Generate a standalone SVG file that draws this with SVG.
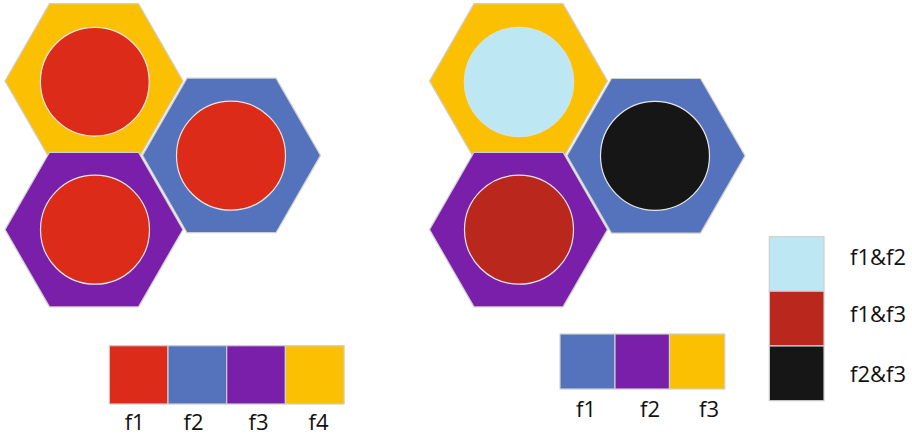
<svg xmlns="http://www.w3.org/2000/svg" width="912" height="436" viewBox="0 0 912 436">
<style>
.hex{stroke:#cfcfcf;stroke-width:1.2}
.cir{stroke:#e6e6e6;stroke-width:1.2}
.sw{stroke:#cfcfcf;stroke-width:1.2}
.yel{fill:#FBC002}.blu{fill:#5473BC}.pur{fill:#7A1FA9}.red{fill:#DC2C19}
.lbl{fill:#bde8f3}.dred{fill:#BA271C}.blk{fill:#161616}
text{font-family:"Open Sans","Liberation Sans",sans-serif;font-size:22px;fill:#111}
</style>
<defs>
<polygon id="hexshape" points="-89,0 -44.5,-77.3 44.5,-77.3 89,0 44.5,77.3 -44.5,77.3"/>
</defs>
<g id="left-group">
<g id="hex-f4-left"><use href="#hexshape" x="94" y="81" class="hex yel"/><circle cx="94.8" cy="81.7" r="54.4" class="cir red"/></g>
<g id="hex-f2-left"><use href="#hexshape" x="231.5" y="155.4" class="hex blu"/><circle cx="231" cy="155.7" r="54.5" class="cir red"/></g>
<g id="hex-f3-left"><use href="#hexshape" x="94" y="229.6" class="hex pur"/><circle cx="95" cy="229.7" r="54.5" class="cir red"/></g>
</g>
<g id="right-group">
<g id="hex-f3-right"><use href="#hexshape" x="518.5" y="81" class="hex yel"/><circle cx="519" cy="82" r="54.8" class="lbl" stroke="#d6e3e8" stroke-width="1"/></g>
<g id="hex-f1-right"><use href="#hexshape" x="656" y="155.8" class="hex blu"/><circle cx="655" cy="155.8" r="54.5" class="cir blk"/></g>
<g id="hex-f2-right"><use href="#hexshape" x="518.5" y="229.6" class="hex pur"/><circle cx="519" cy="229.7" r="54.5" class="cir dred"/></g>
</g>
<g id="legend-left">
<rect x="109.3" y="345.7" width="58.7" height="58.3" class="sw red"/>
<rect x="168" y="345.7" width="58.7" height="58.3" class="sw blu"/>
<rect x="226.7" y="345.7" width="58.7" height="58.3" class="sw pur"/>
<rect x="285.4" y="345.7" width="58.7" height="58.3" class="sw yel"/>
<text x="134.7" y="430" text-anchor="middle">f1</text>
<text x="193.5" y="430" text-anchor="middle">f2</text>
<text x="258.5" y="430" text-anchor="middle">f3</text>
<text x="318.5" y="430" text-anchor="middle">f4</text>
</g>
<g id="legend-right">
<rect x="560" y="334" width="55" height="55" class="sw blu"/>
<rect x="615" y="334" width="54.5" height="55" class="sw pur"/>
<rect x="669.5" y="334" width="55.3" height="55" class="sw yel"/>
<text x="586" y="416.5" text-anchor="middle">f1</text>
<text x="650" y="416.5" text-anchor="middle">f2</text>
<text x="709" y="416.5" text-anchor="middle">f3</text>
</g>
<g id="legend-pairs">
<rect x="769.3" y="236.7" width="54.7" height="54.5" class="sw lbl"/>
<rect x="769.3" y="291.2" width="54.7" height="54.8" class="sw dred"/>
<rect x="769.3" y="346" width="54.7" height="54.7" class="sw blk"/>
<text x="850" y="264.5">f1&amp;f2</text>
<text x="850" y="321.7">f1&amp;f3</text>
<text x="850" y="382.3">f2&amp;f3</text>
</g>
</svg>
